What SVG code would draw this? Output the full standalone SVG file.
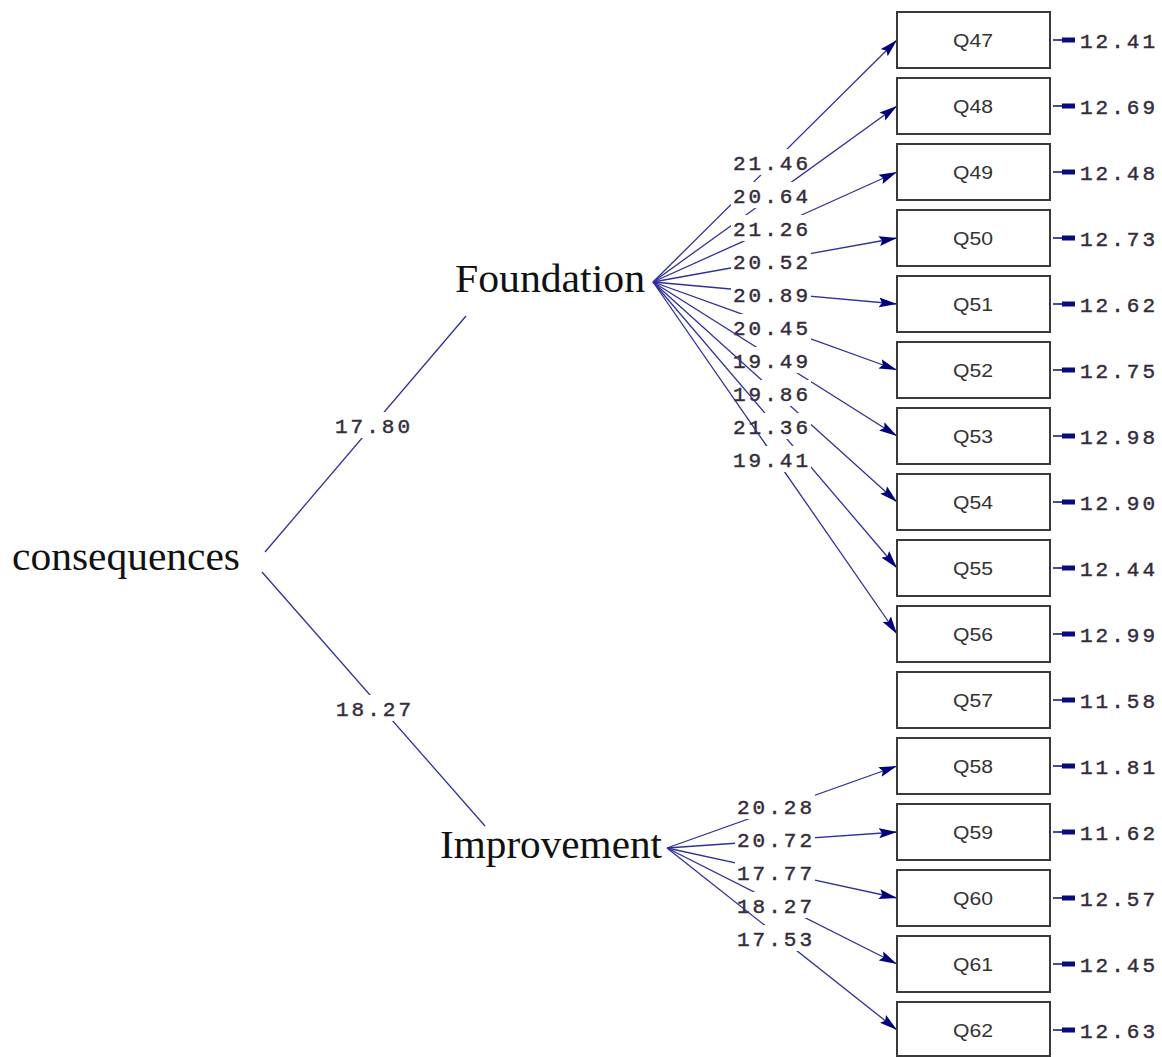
<svg xmlns="http://www.w3.org/2000/svg" width="1162" height="1057" viewBox="0 0 1162 1057">
  <style>
    .box { fill: #ffffff; stroke: #3a3a3a; stroke-width: 2; }
    .obs { font-family: "Liberation Sans", Arial, sans-serif; font-size: 18px; fill: #333333; }
    .lat { font-family: "Liberation Serif", "Times New Roman", serif; font-size: 40px; fill: #111111; }
    .path { stroke: #30309a; stroke-width: 1.3; fill: none; }
    .arr { marker-end: url(#head); }
    .val { font-family: "Liberation Mono", "Courier New", monospace; font-size: 21px; fill: #342c3a; stroke: #342c3a; stroke-width: 0.45; }
    .bg { fill: #ffffff; }
    .err { stroke: #0a0a80; stroke-width: 1.5; }
    .errhead { fill: #0a0a80; }
  </style>
  <defs>
    <marker id="head" markerWidth="18" markerHeight="11" refX="18" refY="5.5" orient="auto" markerUnits="userSpaceOnUse">
      <path d="M0,0.5 L18,5.5 L0,10.5 L3,5.5 Z" fill="#00007a"/>
    </marker>
  </defs>

  <rect width="1162" height="1057" fill="#ffffff"/>

  <!-- latent variables -->
  <g id="consequences">
    <text class="lat" x="12" y="570" textLength="228" lengthAdjust="spacingAndGlyphs">consequences</text>
  </g>
  <g id="foundation">
    <text class="lat" x="455" y="292" textLength="190" lengthAdjust="spacingAndGlyphs">Foundation</text>
  </g>
  <g id="improvement">
    <text class="lat" x="440" y="858" textLength="222" lengthAdjust="spacingAndGlyphs">Improvement</text>
  </g>

  <!-- paths: each line is drawn, then its value on a white patch -->
  <g id="connectors">
    <line class="path" x1="265" y1="552" x2="466" y2="316"/>
    <rect class="bg" x="333" y="412" width="79" height="26"/>
    <text class="val" x="335" y="433" textLength="75" lengthAdjust="spacing">17.80</text>

    <line class="path" x1="262" y1="572" x2="485" y2="826"/>
    <rect class="bg" x="334" y="695" width="80" height="26"/>
    <text class="val" x="336" y="716" textLength="75" lengthAdjust="spacing">18.27</text>

    <!-- Foundation -> Q47..Q56 -->
    <line class="path arr" x1="653" y1="282" x2="897" y2="40"/>
    <rect class="bg" x="731" y="149" width="80" height="26"/>
    <text class="val" x="733" y="170" textLength="75" lengthAdjust="spacing">21.46</text>

    <line class="path arr" x1="653" y1="282" x2="897" y2="106"/>
    <rect class="bg" x="731" y="182" width="80" height="26"/>
    <text class="val" x="733" y="203" textLength="75" lengthAdjust="spacing">20.64</text>

    <line class="path arr" x1="653" y1="282" x2="897" y2="172"/>
    <rect class="bg" x="731" y="215" width="80" height="26"/>
    <text class="val" x="733" y="236" textLength="75" lengthAdjust="spacing">21.26</text>

    <line class="path arr" x1="653" y1="282" x2="897" y2="238"/>
    <rect class="bg" x="731" y="248" width="80" height="26"/>
    <text class="val" x="733" y="269" textLength="75" lengthAdjust="spacing">20.52</text>

    <line class="path arr" x1="653" y1="282" x2="897" y2="304"/>
    <rect class="bg" x="731" y="281" width="80" height="26"/>
    <text class="val" x="733" y="302" textLength="75" lengthAdjust="spacing">20.89</text>

    <line class="path arr" x1="653" y1="282" x2="897" y2="370"/>
    <rect class="bg" x="731" y="314" width="80" height="26"/>
    <text class="val" x="733" y="335" textLength="75" lengthAdjust="spacing">20.45</text>

    <line class="path arr" x1="653" y1="282" x2="897" y2="436"/>
    <rect class="bg" x="731" y="347" width="80" height="26"/>
    <text class="val" x="733" y="368" textLength="75" lengthAdjust="spacing">19.49</text>

    <line class="path arr" x1="653" y1="282" x2="897" y2="502"/>
    <rect class="bg" x="731" y="380" width="80" height="26"/>
    <text class="val" x="733" y="401" textLength="75" lengthAdjust="spacing">19.86</text>

    <line class="path arr" x1="653" y1="282" x2="897" y2="568"/>
    <rect class="bg" x="731" y="413" width="80" height="26"/>
    <text class="val" x="733" y="434" textLength="75" lengthAdjust="spacing">21.36</text>

    <line class="path arr" x1="653" y1="282" x2="897" y2="634"/>
    <rect class="bg" x="731" y="446" width="80" height="26"/>
    <text class="val" x="733" y="467" textLength="75" lengthAdjust="spacing">19.41</text>

    <!-- Improvement -> Q58..Q62 -->
    <line class="path arr" x1="667" y1="848" x2="897" y2="766"/>
    <rect class="bg" x="735" y="793" width="80" height="26"/>
    <text class="val" x="737" y="814" textLength="75" lengthAdjust="spacing">20.28</text>

    <line class="path arr" x1="667" y1="848" x2="897" y2="832"/>
    <rect class="bg" x="735" y="826" width="80" height="26"/>
    <text class="val" x="737" y="847" textLength="75" lengthAdjust="spacing">20.72</text>

    <line class="path arr" x1="667" y1="848" x2="897" y2="898"/>
    <rect class="bg" x="735" y="859" width="80" height="26"/>
    <text class="val" x="737" y="880" textLength="75" lengthAdjust="spacing">17.77</text>

    <line class="path arr" x1="667" y1="848" x2="897" y2="964"/>
    <rect class="bg" x="735" y="892" width="80" height="26"/>
    <text class="val" x="737" y="913" textLength="75" lengthAdjust="spacing">18.27</text>

    <line class="path arr" x1="667" y1="848" x2="897" y2="1030"/>
    <rect class="bg" x="735" y="925" width="80" height="26"/>
    <text class="val" x="737" y="946" textLength="75" lengthAdjust="spacing">17.53</text>
  </g>

  <!-- observed indicators with their error terms -->
  <g id="Q47"><rect class="box" x="897" y="12" width="153" height="56"/><text class="obs" x="953" y="47" textLength="40" lengthAdjust="spacingAndGlyphs">Q47</text><line class="err" x1="1053" y1="40" x2="1063" y2="40"/><rect class="errhead" x="1062" y="37.5" width="13" height="5"/><text class="val" x="1080" y="48" textLength="75" lengthAdjust="spacing">12.41</text></g>
  <g id="Q48"><rect class="box" x="897" y="78" width="153" height="56"/><text class="obs" x="953" y="113" textLength="40" lengthAdjust="spacingAndGlyphs">Q48</text><line class="err" x1="1053" y1="106" x2="1063" y2="106"/><rect class="errhead" x="1062" y="103.5" width="13" height="5"/><text class="val" x="1080" y="114" textLength="75" lengthAdjust="spacing">12.69</text></g>
  <g id="Q49"><rect class="box" x="897" y="144" width="153" height="56"/><text class="obs" x="953" y="179" textLength="40" lengthAdjust="spacingAndGlyphs">Q49</text><line class="err" x1="1053" y1="172" x2="1063" y2="172"/><rect class="errhead" x="1062" y="169.5" width="13" height="5"/><text class="val" x="1080" y="180" textLength="75" lengthAdjust="spacing">12.48</text></g>
  <g id="Q50"><rect class="box" x="897" y="210" width="153" height="56"/><text class="obs" x="953" y="245" textLength="40" lengthAdjust="spacingAndGlyphs">Q50</text><line class="err" x1="1053" y1="238" x2="1063" y2="238"/><rect class="errhead" x="1062" y="235.5" width="13" height="5"/><text class="val" x="1080" y="246" textLength="75" lengthAdjust="spacing">12.73</text></g>
  <g id="Q51"><rect class="box" x="897" y="276" width="153" height="56"/><text class="obs" x="953" y="311" textLength="40" lengthAdjust="spacingAndGlyphs">Q51</text><line class="err" x1="1053" y1="304" x2="1063" y2="304"/><rect class="errhead" x="1062" y="301.5" width="13" height="5"/><text class="val" x="1080" y="312" textLength="75" lengthAdjust="spacing">12.62</text></g>
  <g id="Q52"><rect class="box" x="897" y="342" width="153" height="56"/><text class="obs" x="953" y="377" textLength="40" lengthAdjust="spacingAndGlyphs">Q52</text><line class="err" x1="1053" y1="370" x2="1063" y2="370"/><rect class="errhead" x="1062" y="367.5" width="13" height="5"/><text class="val" x="1080" y="378" textLength="75" lengthAdjust="spacing">12.75</text></g>
  <g id="Q53"><rect class="box" x="897" y="408" width="153" height="56"/><text class="obs" x="953" y="443" textLength="40" lengthAdjust="spacingAndGlyphs">Q53</text><line class="err" x1="1053" y1="436" x2="1063" y2="436"/><rect class="errhead" x="1062" y="433.5" width="13" height="5"/><text class="val" x="1080" y="444" textLength="75" lengthAdjust="spacing">12.98</text></g>
  <g id="Q54"><rect class="box" x="897" y="474" width="153" height="56"/><text class="obs" x="953" y="509" textLength="40" lengthAdjust="spacingAndGlyphs">Q54</text><line class="err" x1="1053" y1="502" x2="1063" y2="502"/><rect class="errhead" x="1062" y="499.5" width="13" height="5"/><text class="val" x="1080" y="510" textLength="75" lengthAdjust="spacing">12.90</text></g>
  <g id="Q55"><rect class="box" x="897" y="540" width="153" height="56"/><text class="obs" x="953" y="575" textLength="40" lengthAdjust="spacingAndGlyphs">Q55</text><line class="err" x1="1053" y1="568" x2="1063" y2="568"/><rect class="errhead" x="1062" y="565.5" width="13" height="5"/><text class="val" x="1080" y="576" textLength="75" lengthAdjust="spacing">12.44</text></g>
  <g id="Q56"><rect class="box" x="897" y="606" width="153" height="56"/><text class="obs" x="953" y="641" textLength="40" lengthAdjust="spacingAndGlyphs">Q56</text><line class="err" x1="1053" y1="634" x2="1063" y2="634"/><rect class="errhead" x="1062" y="631.5" width="13" height="5"/><text class="val" x="1080" y="642" textLength="75" lengthAdjust="spacing">12.99</text></g>
  <g id="Q57"><rect class="box" x="897" y="672" width="153" height="56"/><text class="obs" x="953" y="707" textLength="40" lengthAdjust="spacingAndGlyphs">Q57</text><line class="err" x1="1053" y1="700" x2="1063" y2="700"/><rect class="errhead" x="1062" y="697.5" width="13" height="5"/><text class="val" x="1080" y="708" textLength="75" lengthAdjust="spacing">11.58</text></g>
  <g id="Q58"><rect class="box" x="897" y="738" width="153" height="56"/><text class="obs" x="953" y="773" textLength="40" lengthAdjust="spacingAndGlyphs">Q58</text><line class="err" x1="1053" y1="766" x2="1063" y2="766"/><rect class="errhead" x="1062" y="763.5" width="13" height="5"/><text class="val" x="1080" y="774" textLength="75" lengthAdjust="spacing">11.81</text></g>
  <g id="Q59"><rect class="box" x="897" y="804" width="153" height="56"/><text class="obs" x="953" y="839" textLength="40" lengthAdjust="spacingAndGlyphs">Q59</text><line class="err" x1="1053" y1="832" x2="1063" y2="832"/><rect class="errhead" x="1062" y="829.5" width="13" height="5"/><text class="val" x="1080" y="840" textLength="75" lengthAdjust="spacing">11.62</text></g>
  <g id="Q60"><rect class="box" x="897" y="870" width="153" height="56"/><text class="obs" x="953" y="905" textLength="40" lengthAdjust="spacingAndGlyphs">Q60</text><line class="err" x1="1053" y1="898" x2="1063" y2="898"/><rect class="errhead" x="1062" y="895.5" width="13" height="5"/><text class="val" x="1080" y="906" textLength="75" lengthAdjust="spacing">12.57</text></g>
  <g id="Q61"><rect class="box" x="897" y="936" width="153" height="56"/><text class="obs" x="953" y="971" textLength="40" lengthAdjust="spacingAndGlyphs">Q61</text><line class="err" x1="1053" y1="964" x2="1063" y2="964"/><rect class="errhead" x="1062" y="961.5" width="13" height="5"/><text class="val" x="1080" y="972" textLength="75" lengthAdjust="spacing">12.45</text></g>
  <g id="Q62"><rect class="box" x="897" y="1002" width="153" height="54"/><text class="obs" x="953" y="1037" textLength="40" lengthAdjust="spacingAndGlyphs">Q62</text><line class="err" x1="1053" y1="1030" x2="1063" y2="1030"/><rect class="errhead" x="1062" y="1027.5" width="13" height="5"/><text class="val" x="1080" y="1038" textLength="75" lengthAdjust="spacing">12.63</text></g>
</svg>
